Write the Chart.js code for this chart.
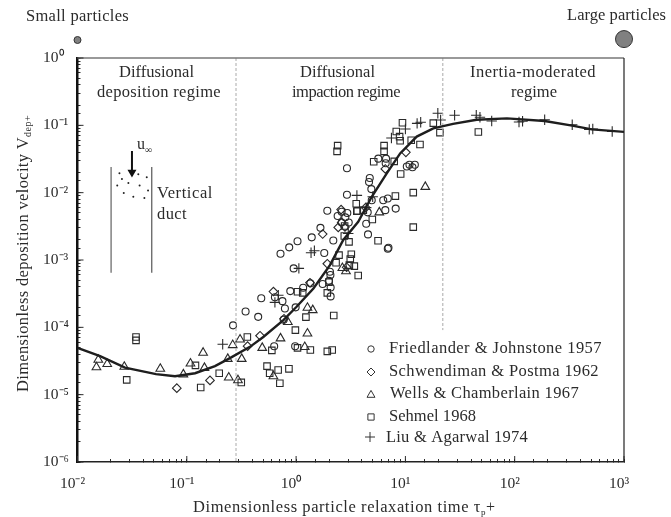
<!DOCTYPE html>
<html>
<head>
<meta charset="utf-8">
<style>
  html, body { margin: 0; padding: 0; background: #fff; }
  canvas { display: block; }
</style>
<script src="https://cdn.jsdelivr.net/npm/chart.js@4"></script>
</head>
<body>
<canvas id="chart" width="671" height="517"></canvas>
<script>
// values
const friedlanderTau = [0.265,0.345,0.45,0.48,0.64,0.75,0.79,0.99,0.77,0.63,0.98,0.885,1.16,1.35,1.75,2.0,2.07,2.07,2.04,2.06,0.95,0.72,0.865,1.03,1.39,1.67,1.81,2.19,1.93,2.4,2.82,2.94,2.61,2.61,3.03,2.92,5.65,6.65,6.6,4.72,4.65,4.88,2.92,4.92,6.27,6.9,8.15,6.55,4.52,4.38,4.55,7.0,6.9,10.3,10.9,12.2,11.6];
const friedlanderV = [1.07e-4,1.72e-4,1.43e-4,2.7e-4,2.8e-4,2.45e-4,1.9e-4,1.98e-4,1.3e-4,5.25e-5,5.25e-5,3.45e-4,3.87e-4,4.5e-4,4.4e-4,4.9e-4,3.9e-4,2.88e-4,6.7e-4,6e-4,7.5e-4,1.24e-3,1.54e-3,1.9e-3,2.17e-3,3e-3,1.27e-3,1.95e-3,5.4e-3,4.5e-3,4.3e-3,5e-3,5.2e-3,3.6e-3,3.6e-3,2.3e-2,3.2e-2,3.2e-2,2.73e-2,1.65e-2,1.44e-2,1.13e-2,9.3e-3,7.7e-3,7.7e-3,8.2e-3,5.8e-3,5.5e-3,5.1e-3,3.45e-3,2.4e-3,1.52e-3,1.47e-3,2.45e-2,2.6e-2,2.6e-2,2.38e-2];

const schwendimanTau = [0.081,0.163,0.36,0.468,0.62,1.75,1.93,0.775,2.43,1.34,2.9,6.55,2.58,4.33,10.1,2.8,2.61];
const schwendimanV = [1.25e-5,1.63e-5,5.25e-5,7.5e-5,3.4e-4,2.43e-3,8.8e-4,1.34e-4,3.05e-3,4.6e-4,7.8e-4,2.25e-2,5.6e-3,6e-3,3.97e-2,3.1e-3,3.6e-3];

const wellsTau = [0.0155,0.0149,0.0187,0.0268,0.0572,0.093,0.108,0.141,0.145,0.237,0.242,0.263,0.294,0.307,0.318,0.49,0.72,0.84,1.27,1.42,1.27,1.2,0.62,2.65,2.86,15.2,5.77];
const wellsV = [3.3e-5,2.55e-5,2.85e-5,2.6e-5,2.42e-5,2.0e-5,2.9e-5,4.2e-5,2.5e-5,3.4e-5,1.8e-5,5.45e-5,1.64e-5,6.6e-5,3.4e-5,4.95e-5,6.85e-5,1.2e-4,1.95e-4,1.8e-4,8.1e-5,5.1e-5,1.88e-5,7.6e-4,6.8e-4,1.22e-2,5.1e-3];

const sehmelTau = [0.0343,0.0343,0.0282,0.12,0.134,0.198,0.315,0.358,0.6,0.985,1.23,2.21,1.03,1.15,1.93,2.0,2.32,2.47,3.2,3.05,2.76,2.78,3.41,3.7,3.07,3.13,1.03,1.35,1.93,2.14,0.542,0.573,0.685,0.86,0.71,3.59,9.4,8.25,8.85,8.95,11.3,13.6,18,20.7,2.4,2.37,6.38,6.38,5.13,7.9,9.05,8.1,11.8,11.8,3.55,3.63,4.12,4.98,5.62,46.5];
const sehmelV = [7.2e-5,6.4e-5,1.66e-5,2.72e-5,1.28e-5,2.08e-5,1.52e-5,7.2e-5,4.55e-5,9.1e-5,1.42e-4,1.5e-4,3.37e-4,3.25e-4,3.25e-4,4.7e-4,9.1e-4,1.18e-3,1.22e-3,1.86e-3,2.27e-3,3.2e-3,8.1e-4,5.9e-4,8.4e-4,1.03e-3,4.95e-5,4.6e-5,4.4e-5,4.6e-5,2.65e-5,2.08e-5,2.32e-5,2.42e-5,1.48e-5,5.3e-3,0.109,8.1e-2,6.8e-2,5.9e-2,6e-2,5.2e-2,0.108,7.8e-2,5e-2,4.1e-2,5e-2,4.1e-2,2.88e-2,2.92e-2,1.89e-2,8.9e-3,1e-2,3.08e-3,6.85e-3,5.4e-3,5.5e-3,4e-3,1.93e-3,7.95e-2];

const liuTau = [0.213,0.688,0.64,1.47,1.37,1.06,3.0,3.6,5.02,4.38,7.45,10,12.8,13.8,19.8,21,28.2,44.5,48.1,61.6,109.5,118,188,336,481,518,780];
const liuV = [5.6e-5,3e-4,2.35e-4,1.37e-3,1.28e-3,7.5e-4,2.48e-3,9.1e-3,8.7e-3,6e-3,6.5e-2,8.8e-2,0.107,0.111,0.151,0.12,0.141,0.141,0.132,0.116,0.112,0.115,0.121,0.102,8.7e-2,8.8e-2,8.1e-2];

const curveTau = [0.01,0.0161,0.0272,0.0523,0.078,0.119,0.181,0.248,0.378,0.501,0.765,1.01,1.44,2.04,2.7,3.7,4.92,6.75,8.95,12.7,18,27.3,44.9,84.9,188,336,507,1000];
const curveV = [4.95e-5,3.73e-5,2.52e-5,2.02e-5,1.88e-5,2.08e-5,2.65e-5,3.49e-5,5.13e-5,7.2e-5,1.28e-4,2.02e-4,3.78e-4,8.4e-4,1.98e-3,3.7e-3,8.7e-3,1.94e-2,3.83e-2,6.8e-2,9e-2,0.105,0.121,0.127,0.116,9.9e-2,8.7e-2,8e-2];

// duct sketch, in plot units
const ductLeftTau = [0.0203,0.0203];
const ductRightTau = [0.0478,0.0478];
const ductV = [2.4e-2,6.45e-4];
const arrowTau = [0.0315,0.0315];
const arrowV = [4.15e-2,2.0e-2];
const ductDotsTau = [0.0242,0.0255,0.0292,0.0231,0.0265,0.0324,0.036,0.043,0.037,0.0442,0.0409];
const ductDotsV = [1.95e-2,1.59e-2,1.39e-2,1.28e-2,9.9e-3,8.7e-3,1.87e-2,1.7e-2,1.28e-2,1.08e-2,8.3e-3];

const regimeLeftTau = [0.282,0.282];
const regimeLeftV = [1,1e-6];
const regimeRightTau = [22,22];
const regimeRightV = [1,9.1e-5];

// particle size dots above the frame
const particleTau = [0.01,1000];
const particleV = [1.85,1.91];
const particleRadius = [3.5,8.5];

const SERIF = '"Liberation Serif", serif';
const INK = "#2b2b2b";
const SUPERS = { "-": "\u207B", 0: "\u2070", 1: "\u00B9", 2: "\u00B2", 3: "\u00B3", 4: "\u2074", 5: "\u2075", 6: "\u2076" };

function toPoints(xs, ys) {
  return xs.map((x, i) => ({ x, y: ys[i] }));
}

function powerLabel(value) {
  const exp = Math.log10(value);
  if (Math.abs(exp - Math.round(exp)) > 1e-6) return "";
  return "10" + String(Math.round(exp)).split("").map((c) => SUPERS[c]).join("");
}

function markers(points, pointStyle, radius) {
  return {
    data: points,
    showLine: false,
    pointStyle,
    pointRadius: radius,
    pointBorderWidth: 1.1,
    pointBorderColor: "#2a2a2a",
    pointBackgroundColor: "rgba(0,0,0,0)",
  };
}

function segment(points, color, width, dash) {
  return {
    data: points,
    showLine: true,
    borderColor: color,
    borderWidth: width,
    borderDash: dash || [],
    pointRadius: 0,
  };
}

// stretch a string to the width it has in the figure
function fitText(ctx, text, x, y, width) {
  ctx.letterSpacing = "0px";
  const extra = (width - ctx.measureText(text).width) / text.length;
  ctx.letterSpacing = extra.toFixed(3) + "px";
  ctx.fillText(text, x, y);
  ctx.letterSpacing = "0px";
  return x + width;
}

const figureText = [
  ["Small particles", 26, 21, 103],
  ["Large particles", 567, 20, 99],
  ["Diffusional", 119, 77, 75],
  ["deposition regime", 97, 97, 124],
  ["Diffusional", 300, 77, 75],
  ["impaction regime", 292, 97, 108],
  ["Inertia-moderated", 470, 77, 126],
  ["regime", 511, 97, 46],
  ["Vertical", 157, 198, 56],
  ["duct", 157, 219, 30],
  ["Friedlander & Johnstone 1957", 389, 353, 213],
  ["Schwendiman & Postma 1962", 389, 376, 210],
  ["Wells & Chamberlain 1967", 390, 398, 189],
  ["Sehmel 1968", 389, 421, 87],
  ["Liu & Agarwal 1974", 386, 442, 142],
];

const legendKeys = [
  ["circle", 3.2, 371, 349],
  ["rectRot", 4, 371, 372],
  ["triangle", 4.6, 371, 395],
  ["rect", 4.4, 371, 417],
  ["cross", 5, 370, 437],
];

const figureDecor = {
  id: "figureDecor",
  afterDraw(chart) {
    const { ctx, chartArea: area, scales } = chart;
    ctx.save();

    // top and right frame
    ctx.strokeStyle = "#777";
    ctx.lineWidth = 1.5;
    ctx.beginPath();
    ctx.moveTo(area.left, area.top);
    ctx.lineTo(area.right, area.top);
    ctx.stroke();
    ctx.strokeStyle = "#222";
    ctx.lineWidth = 1.2;
    ctx.beginPath();
    ctx.moveTo(area.right, area.top);
    ctx.lineTo(area.right, area.bottom);
    ctx.stroke();

    // decade ticks run a bit longer than the minor ones
    ctx.strokeStyle = INK;
    ctx.lineWidth = 1;
    scales.x.ticks.filter((t) => t.major).forEach((t) => {
      const px = scales.x.getPixelForValue(t.value);
      ctx.beginPath();
      ctx.moveTo(px, area.bottom);
      ctx.lineTo(px, area.bottom - 6);
      ctx.stroke();
    });
    scales.y.ticks.filter((t) => t.major).forEach((t) => {
      const py = scales.y.getPixelForValue(t.value);
      ctx.beginPath();
      ctx.moveTo(area.left, py);
      ctx.lineTo(area.left + 6, py);
      ctx.stroke();
    });

    // size dots sit outside the plot area, so the datasets would not show them
    ctx.strokeStyle = "#333";
    ctx.fillStyle = "#808080";
    ctx.lineWidth = 1;
    particleTau.forEach((tau, i) => {
      Chart.helpers.drawPoint(
        ctx,
        { pointStyle: "circle", radius: particleRadius[i], rotation: 0, borderWidth: 1 },
        scales.x.getPixelForValue(tau),
        scales.y.getPixelForValue(particleV[i])
      );
    });

    ctx.fillStyle = INK;
    ctx.textBaseline = "alphabetic";
    ctx.textAlign = "left";
    ctx.font = `16.5px ${SERIF}`;
    figureText.forEach(([text, x, y, w]) => fitText(ctx, text, x, y, w));

    // u-infinity
    ctx.font = `16px ${SERIF}`;
    ctx.fillText("u", 137, 149);
    ctx.font = `10px ${SERIF}`;
    ctx.fillText("\u221E", 145, 153);

    // x axis title
    ctx.font = `16.5px ${SERIF}`;
    let end = fitText(ctx, "Dimensionless particle relaxation time \u03C4", 193, 512, 288);
    ctx.font = `9px ${SERIF}`;
    ctx.fillText("p", end, 515);
    ctx.font = `16px ${SERIF}`;
    ctx.fillText("+", end + 5, 512);

    // y axis title
    ctx.translate(28, 392);
    ctx.rotate(-Math.PI / 2);
    ctx.font = `16.5px ${SERIF}`;
    end = fitText(ctx, "Dimensionless deposition velocity V", 0, 0, 255);
    ctx.font = `10px ${SERIF}`;
    end = fitText(ctx, "dep+", end, 3, 22);
    ctx.setTransform(1, 0, 0, 1, 0, 0);

    // legend keys
    ctx.strokeStyle = "#333";
    ctx.fillStyle = "rgba(0,0,0,0)";
    ctx.lineWidth = 1;
    legendKeys.forEach(([pointStyle, radius, x, y]) => {
      Chart.helpers.drawPoint(ctx, { pointStyle, radius, rotation: 0, borderWidth: 1 }, x, y);
    });
    ctx.restore();
  },
};

new Chart(document.getElementById("chart"), {
  type: "scatter",
  data: {
    datasets: [
      segment(toPoints(curveTau, curveV), "#1e1e1e", 2.4),
      segment(toPoints(ductLeftTau, ductV), "#888", 1.6),
      segment(toPoints(ductRightTau, ductV), "#555", 1.2),
      {
        data: toPoints(arrowTau, arrowV),
        showLine: true,
        borderColor: "#111",
        borderWidth: 2,
        pointStyle: "triangle",
        rotation: 180,
        pointRadius: [0, 3.2],
        pointBackgroundColor: "#111",
        pointBorderColor: "#111",
      },
      {
        data: toPoints(ductDotsTau, ductDotsV),
        showLine: false,
        pointRadius: 1,
        pointBorderWidth: 0,
        pointBackgroundColor: "#222",
      },
      segment(toPoints(regimeLeftTau, regimeLeftV), "#aaa", 1, [3, 2]),
      segment(toPoints(regimeRightTau, regimeRightV), "#aaa", 1, [3, 2]),
      markers(toPoints(friedlanderTau, friedlanderV), "circle", 3.5),
      markers(toPoints(schwendimanTau, schwendimanV), "rectRot", 4.3),
      markers(toPoints(wellsTau, wellsV), "triangle", 5),
      markers(toPoints(sehmelTau, sehmelV), "rect", 4.6),
      markers(toPoints(liuTau, liuV), "cross", 5.2),
    ],
  },
  options: {
    responsive: false,
    animation: false,
    layout: { padding: { left: 43, top: 58, right: 47, bottom: 0 } },
    plugins: { legend: { display: false }, tooltip: { enabled: false } },
    scales: {
      x: {
        type: "logarithmic",
        min: 0.01,
        max: 1000,
        border: { color: "#222", width: 1.5 },
        grid: { drawOnChartArea: false, tickLength: -3, tickColor: INK, tickWidth: 1 },
        ticks: {
          autoSkip: false,
          maxRotation: 0,
          padding: 16,
          labelOffset: -5,
          color: INK,
          font: { family: SERIF, size: 15.5 },
          callback: powerLabel,
        },
        afterFit(scale) { scale.height = 55; },
      },
      y: {
        type: "logarithmic",
        min: 1e-6,
        max: 1,
        border: { color: "#111", width: 2.5 },
        grid: { drawOnChartArea: false, tickLength: -3, tickColor: INK, tickWidth: 1 },
        ticks: {
          autoSkip: false,
          crossAlign: "far",
          color: INK,
          font: { family: SERIF, size: 15.5 },
          callback: powerLabel,
        },
        afterFit(scale) { scale.width = 34.5; },
      },
    },
  },
  plugins: [figureDecor],
});
</script>
</body>
</html>
